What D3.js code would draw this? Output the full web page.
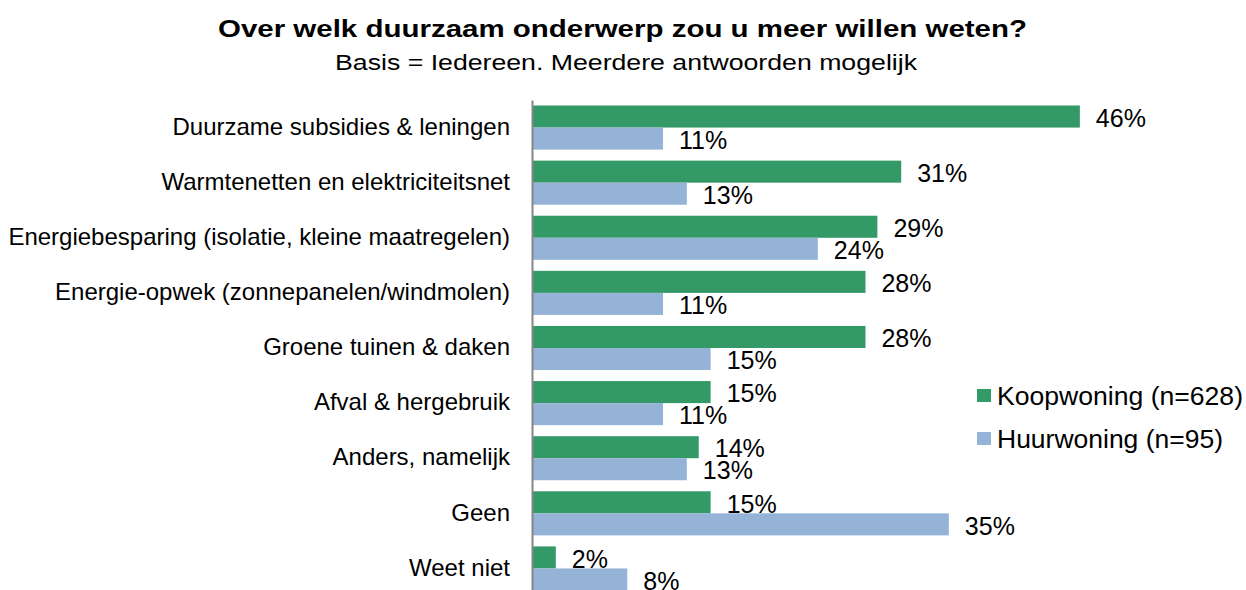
<!DOCTYPE html>
<html><head><meta charset="utf-8">
<script src="https://cdn.jsdelivr.net/npm/d3@7"></script>
<style>body{margin:0;background:#fff;}svg{display:block;font-family:"Liberation Sans",Arial,sans-serif;}</style>
</head><body>
<svg id="chart" width="1246" height="590"></svg>
<script>
const categories = ["Duurzame subsidies & leningen","Warmtenetten en elektriciteitsnet","Energiebesparing (isolatie, kleine maatregelen)","Energie-opwek (zonnepanelen/windmolen)","Groene tuinen & daken","Afval & hergebruik","Anders, namelijk","Geen","Weet niet"];
const koopwoning = [46,31,29,28,28,15,14,15,2];
const huurwoning = [11,13,24,11,15,11,13,35,8];
const seriesNames = ["Koopwoning (n=628)","Huurwoning (n=95)"];
const colors = ["#339966","#95B3D7"];

const svg = d3.select("#chart");
const x = d3.scaleLinear().domain([0,50]).range([532, 532+595.5]);
const y = d3.scaleBand().domain(categories).range([100,596]).paddingInner(0.2).paddingOuter(0.1);
const series = [koopwoning, huurwoning];

svg.append("text").attr("x",622.5).attr("y",37).attr("text-anchor","middle")
  .attr("font-size",23.5).attr("font-weight","bold")
  .attr("textLength",809).attr("lengthAdjust","spacingAndGlyphs")
  .text("Over welk duurzaam onderwerp zou u meer willen weten?");
svg.append("text").attr("x",626).attr("y",70).attr("text-anchor","middle")
  .attr("font-size",22).attr("textLength",582).attr("lengthAdjust","spacingAndGlyphs")
  .text("Basis = Iedereen. Meerdere antwoorden mogelijk");

const bh = y.bandwidth()/2;
series.forEach((vals,si)=>{
  svg.append("g").selectAll("rect").data(vals).join("rect")
    .attr("x",x(0)).attr("y",(d,i)=>y(categories[i])+si*bh)
    .attr("width",d=>x(d)-x(0)).attr("height",bh).attr("fill",colors[si]);
  svg.append("g").selectAll("text").data(vals).join("text")
    .attr("x",d=>x(d)+16).attr("y",(d,i)=>y(categories[i])+si*bh+bh/2+1.5)
    .attr("dy","0.35em").attr("font-size",25).attr("fill","#000").text(d=>d+"%");
});

svg.append("g").attr("transform",`translate(${x(0)},0)`)
  .call(d3.axisLeft(y).tickSize(0).tickPadding(22))
  .call(g=>g.select(".domain").attr("stroke","#868686").attr("stroke-width",2))
  .call(g=>g.selectAll("text").attr("font-size",24).attr("fill","#000").attr("dy","0.3em").attr("font-family","'Liberation Sans',Arial,sans-serif"));

const legWidths = [246, 226];
const leg = svg.append("g");
seriesNames.forEach((n,i)=>{
  leg.append("rect").attr("x",977).attr("y",389+i*43).attr("width",14).attr("height",13).attr("fill",colors[i]);
  leg.append("text").attr("x",997).attr("y",396+i*43).attr("dy","0.35em").attr("font-size",25)
    .attr("textLength",legWidths[i]).attr("lengthAdjust","spacingAndGlyphs").text(n);
});
</script>
</body></html>
